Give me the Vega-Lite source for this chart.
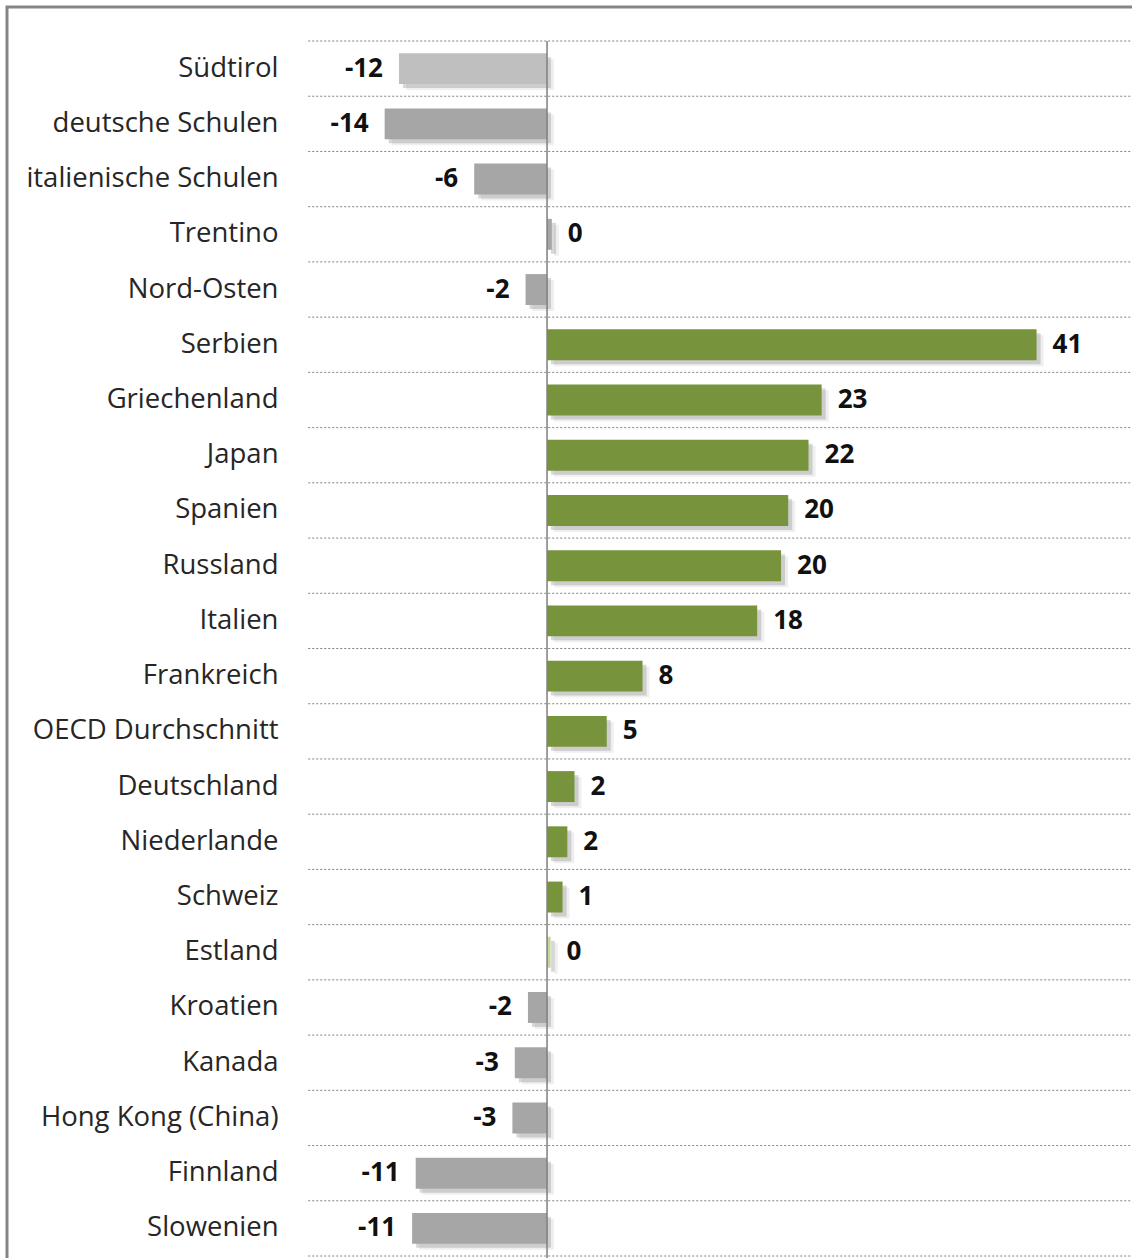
{
  "$schema": "https://vega.github.io/schema/vega-lite/v6.json",
  "width": 1127,
  "height": 1253,
  "autosize": {"type": "none"},
  "padding": {"left": 7, "top": 7, "right": 0, "bottom": 0},
  "background": "white",
  "config": {
    "view": {"stroke": "#858585", "strokeWidth": 3},
    "font": "Open Sans",
    "locale": {"number": {"decimal": ".", "thousands": ",", "grouping": [3], "currency": ["$", ""], "minus": "-"}}
  },
  "data": {
    "values": [
      {"land": "Südtirol", "value": -12.4},
      {"land": "deutsche Schulen", "value": -13.6},
      {"land": "italienische Schulen", "value": -6.1},
      {"land": "Trentino", "value": 0.4},
      {"land": "Nord-Osten", "value": -1.8},
      {"land": "Serbien", "value": 41.0},
      {"land": "Griechenland", "value": 23.0},
      {"land": "Japan", "value": 21.9},
      {"land": "Spanien", "value": 20.2},
      {"land": "Russland", "value": 19.6},
      {"land": "Italien", "value": 17.6},
      {"land": "Frankreich", "value": 8.0},
      {"land": "OECD Durchschnitt", "value": 5.0},
      {"land": "Deutschland", "value": 2.3},
      {"land": "Niederlande", "value": 1.7},
      {"land": "Schweiz", "value": 1.3},
      {"land": "Estland", "value": 0.3},
      {"land": "Kroatien", "value": -1.6},
      {"land": "Kanada", "value": -2.7},
      {"land": "Hong Kong (China)", "value": -2.9},
      {"land": "Finnland", "value": -11.0},
      {"land": "Slowenien", "value": -11.3}
    ]
  },
  "encoding": {
    "y": {
      "field": "land",
      "type": "nominal",
      "sort": null,
      "scale": {"paddingInner": 0, "paddingOuter": 0.344, "align": 0.895},
      "axis": {
        "title": null,
        "domain": false,
        "ticks": false,
        "grid": false,
        "labelPadding": -271,
        "labelAlign": "right",
        "labelLimit": 0,
        "labelFont": "Open Sans",
        "labelFontSize": 27.5,
        "labelColor": "#262626"
      }
    },
    "x": {
      "field": "value",
      "type": "quantitative",
      "scale": {"domain": [-45.23, 49.16], "nice": false, "zero": false},
      "axis": null
    }
  },
  "layer": [
    {
      "mark": {"type": "rule", "color": "#808080", "strokeWidth": 1, "strokeDash": [2, 2]},
      "encoding": {
        "y": {"field": "land", "type": "nominal", "sort": null, "bandPosition": 0},
        "x": {"datum": -20},
        "x2": {"value": "width"}
      }
    },
    {
      "transform": [{"filter": "datum.land === 'Slowenien'"}],
      "mark": {"type": "rule", "color": "#808080", "strokeWidth": 1, "strokeDash": [2, 2]},
      "encoding": {
        "y": {"field": "land", "type": "nominal", "sort": null, "bandPosition": 1},
        "x": {"datum": -20},
        "x2": {"value": "width"}
      }
    },
    {
      "mark": {"type": "bar", "height": {"band": 0.56}, "xOffset": 7, "yOffset": 6, "color": "#7f7f7f", "opacity": 0.12}
    },
    {
      "mark": {"type": "bar", "height": {"band": 0.56}, "xOffset": 4, "yOffset": 4, "color": "#7f7f7f", "opacity": 0.3}
    },
    {
      "mark": {"type": "bar", "height": {"band": 0.56}},
      "encoding": {
        "color": {
          "condition": [
            {"test": "datum.land === 'Südtirol'", "value": "#bfbfbf"},
            {"test": "datum.land === 'Estland'", "value": "#c3d69b"},
            {"test": "datum.value < 0 || datum.land === 'Trentino'", "value": "#a6a6a6"}
          ],
          "value": "#77933c"
        }
      }
    },
    {
      "transform": [{"filter": "datum.land === 'Südtirol'"}],
      "mark": {"type": "rule", "color": "#7f7f7f", "strokeWidth": 1.5},
      "encoding": {
        "x": {"datum": 0},
        "y": {"field": "land", "type": "nominal", "sort": null, "bandPosition": 0},
        "y2": {"value": "height"}
      }
    },
    {
      "transform": [{"filter": "datum.value >= 0"}],
      "mark": {"type": "text", "align": "left", "dx": 16, "fontSize": 26, "fontWeight": "bold", "color": "#111111", "font": "Open Sans"},
      "encoding": {"text": {"field": "value", "type": "quantitative", "format": ".0f"}}
    },
    {
      "transform": [{"filter": "datum.value < 0"}],
      "mark": {"type": "text", "align": "right", "dx": -16, "fontSize": 26, "fontWeight": "bold", "color": "#111111", "font": "Open Sans"},
      "encoding": {"text": {"field": "value", "type": "quantitative", "format": ".0f"}}
    }
  ]
}
